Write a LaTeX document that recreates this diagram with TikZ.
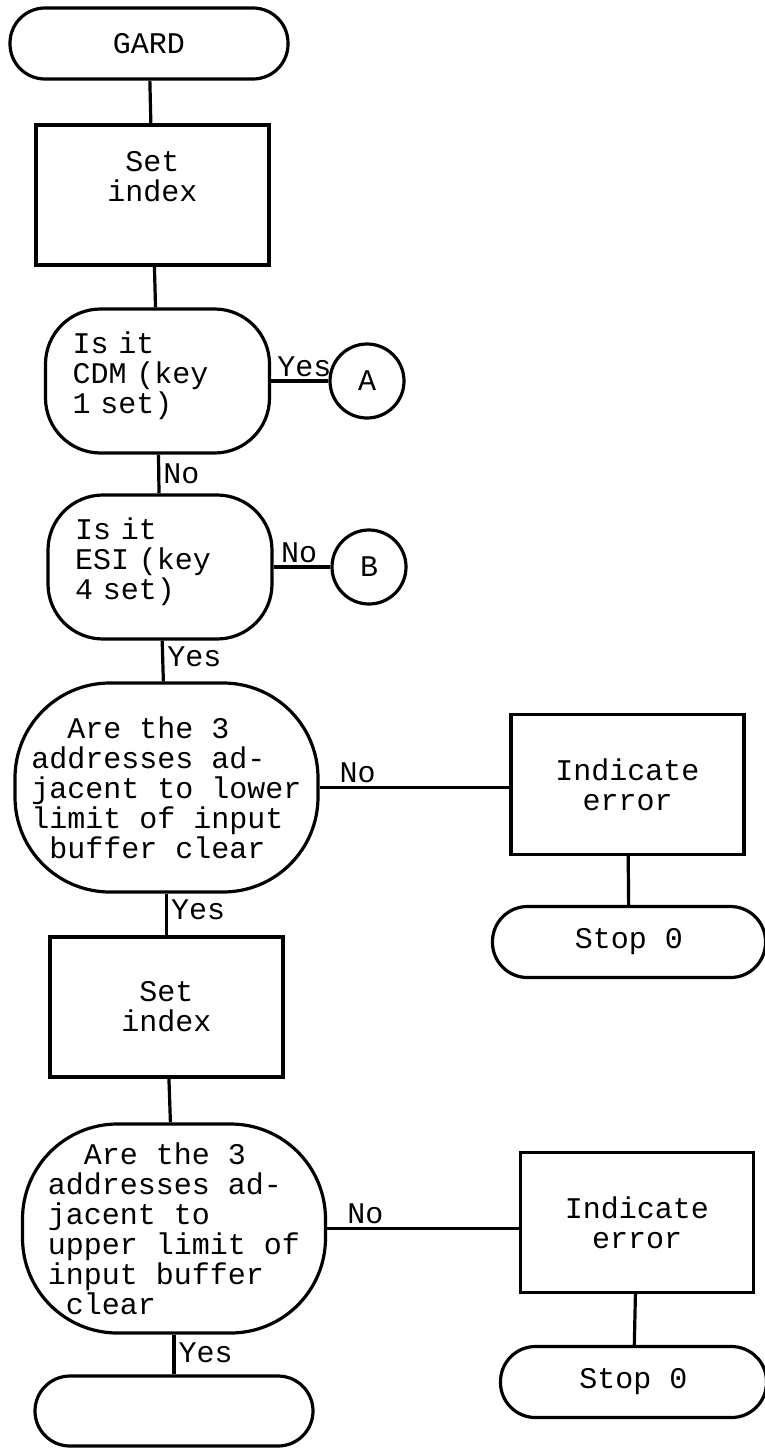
\documentclass[tikz,border=0pt]{standalone}
\usepackage{fontspec}
\setmonofont{Liberation Mono}[WordSpace={1,0,0}]
\usetikzlibrary{positioning}

\begin{document}
\begin{tikzpicture}[x=1pt, y=-1pt, node distance=186pt, line width=3.2pt,
  every node/.style={font=\ttfamily\fontsize{30}{30}\selectfont},
  termbox/.style={draw, rounded corners=35pt, minimum width=278pt, minimum height=71pt},
  procbox/.style={draw, minimum width=233pt, minimum height=140pt, align=center},
  askbox/.style={draw, rounded corners=55pt, minimum width=224pt, minimum height=144pt, text width=170pt, align=left},
  bigask/.style={draw, rounded corners=95pt, minimum width=303pt, minimum height=209pt, align=left},
  joint/.style={draw, circle, minimum size=74pt, inner sep=0pt},
  lbl/.style={inner sep=3pt}]
  \useasboundingbox (0,0) rectangle (764,1448);
  \node[termbox] (gard) at (149,43.5) {GARD};
  \node[procbox] (set1) [below of=gard, xshift=3.5pt, yshift=34.5pt] {Set\\index\\[8pt]\mbox{}};
  \node[askbox] (cdm) [below of=set1, xshift=5pt] {Is it\\CDM (key\\1 set)\\[-14pt]\mbox{}};
  \node[joint] (A) [right of=cdm, xshift=23.5pt] {A};
  \node[askbox] (esi) [below of=cdm, xshift=2.5pt] {Is it\\ESI (key\\4 set)\\[-14pt]\mbox{}};
  \node[joint] (B) [right of=esi, xshift=23pt] {B};
  \node[bigask] (lowchk) [below of=esi, xshift=6.5pt, yshift=-34.5pt]
    {\phantom{xx}Are the 3\\addresses ad-\\jacent to lower\\limit of input\\\phantom{x}buffer clear};
  \node[procbox] (err1) [right of=lowchk, xshift=275pt, yshift=3pt] {Indicate\\error};
  \node[termbox, minimum width=273pt] (stop1) [below of=err1, xshift=1.5pt, yshift=28.5pt] {Stop 0};
  \node[procbox] (set2) [below of=lowchk, yshift=-33.5pt] {Set\\index};
  \node[bigask] (upchk) [below of=set2, xshift=7.5pt, yshift=-35.5pt]
    {\phantom{xx}Are the 3\\addresses ad-\\jacent to\\upper limit of\\input buffer\\\phantom{x}clear};
  \node[procbox] (err2) [right of=upchk, xshift=277pt, yshift=6pt] {Indicate\\error};
  \node[termbox, minimum width=266pt] (stop2) [below of=err2, xshift=-3.5pt, yshift=26.5pt] {Stop 0};
  \node[termbox, minimum height=70pt] (endterm) [below of=upchk, yshift=3.5pt] {};
  % main line
  \draw (gard) -- (set1);
  \draw (set1) -- (cdm);
  \draw (cdm) -- node[lbl, above, pos=0.58] {Yes} (A);
  \draw (cdm) -- node[lbl, right] {No} (esi);
  \draw (esi) -- node[lbl, above, pos=0.45] {No} (B);
  \draw (esi) -- node[lbl, right, pos=0.4] {Yes} (lowchk);
  \draw (lowchk) -- node[lbl, above, pos=0.2] {No} (lowchk -| err1.west);
  \draw (err1) -- (stop1);
  \draw (lowchk) -- node[lbl, right, pos=0.38] {Yes} (set2);
  \draw (set2) -- (upchk);
  \draw (upchk) -- node[lbl, above, pos=0.2] {No} (upchk -| err2.west);
  \draw (err2) -- (stop2);
  \draw (upchk) -- node[lbl, right, pos=0.45] {Yes} (endterm);
\end{tikzpicture}
\end{document}
